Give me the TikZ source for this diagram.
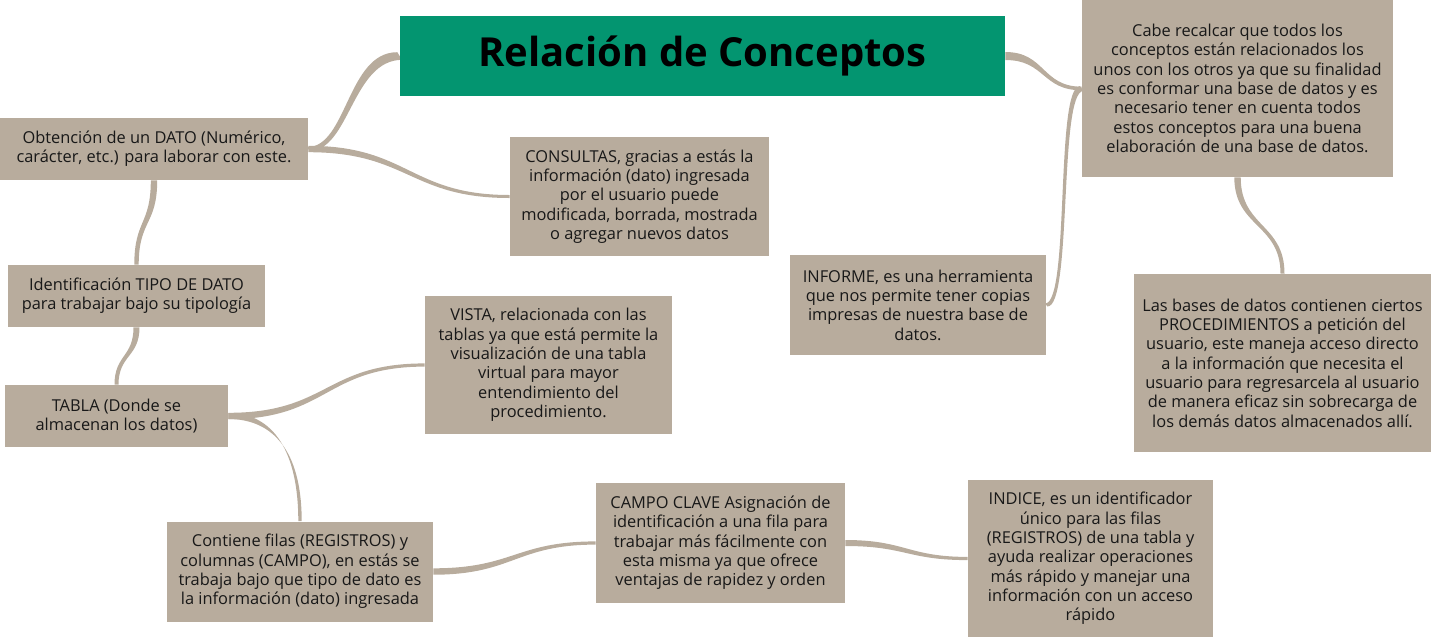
\documentclass[tikz,border=0pt]{standalone}
\usepackage{fontspec}
\setmainfont{Open Sans}
\usetikzlibrary{calc,backgrounds}
\definecolor{conceptfill}{RGB}{184,172,157}
\definecolor{titlefill}{RGB}{3,149,112}
\definecolor{conceptink}{RGB}{24,24,24}
% tapered branch: from #1 to #2, control vectors #3 and #4, half widths #5 and #6
\newcommand{\branch}[6]{%
  \fill[branchline] ($(#1)+(#5)$) .. controls +(#3) and +(#4) .. ($(#2)+(#6)$)
    -- ($(#2)-(#6)$) .. controls +(#4) and +(#3) .. ($(#1)-(#5)$) -- cycle;}
\tikzset{
  concept/.style={rectangle,fill=conceptfill,text=conceptink,inner sep=0pt,
                  align=center,font=\fontsize{12.3}{14.5}\selectfont},
  headline/.style={rectangle,fill=titlefill,text=black,inner sep=0pt,
                   font=\fontsize{30}{34}\selectfont\bfseries},
  boxsize/.style 2 args={minimum width=#1*0.75pt,minimum height=#2*0.75pt},
  branchline/.style={fill=conceptfill},
}

\begin{document}
\begin{tikzpicture}[x=0.75pt,y=-0.75pt]
  \useasboundingbox (0,0) rectangle (1431,637);
  \node[headline,boxsize={605}{80}] (titulo) at (702.5,56) {Relación de Conceptos};
  \node[concept,boxsize={308}{62}] (obtencion) at (154,149)
    {Obtención de un DATO (Numérico,\\carácter, etc.) para laborar con este.};
  \node[concept,boxsize={259}{119}] (consultas) at (639.5,196.5)
    {CONSULTAS, gracias a estás la\\información (dato) ingresada\\por el usuario puede\\
     modificada, borrada, mostrada\\o agregar nuevos datos};
  \node[concept,boxsize={311}{177}] (recalcar) at (1237.5,88.5)
    {Cabe recalcar que todos los\\conceptos están relacionados los\\
     unos con los otros ya que su finalidad\\es conformar una base de datos y es\\
     necesario tener en cuenta todos\\estos conceptos para una buena\\
     elaboración de una base de datos.};
  \node[concept,boxsize={257}{62}] (tipo) at (136.5,296)
    {Identificación TIPO DE DATO\\para trabajar bajo su tipología};
  \node[concept,boxsize={223}{62}] (tabla) at (116.5,416)
    {TABLA (Donde se\\almacenan los datos)};
  \node[concept,boxsize={247}{138}] (vista) at (548.5,365)
    {VISTA, relacionada con las\\tablas ya que está permite la\\visualización de una tabla\\
     virtual para mayor\\entendimiento del\\procedimiento.};
  \node[concept,boxsize={266}{100}] (contiene) at (300,571.5)
    {Contiene filas (REGISTROS) y\\columnas (CAMPO), en estás se\\
     trabaja bajo que tipo de dato es\\la información (dato) ingresada};
  \node[concept,boxsize={249}{120}] (clave) at (720.5,543)
    {CAMPO CLAVE Asignación de\\identificación a una fila para\\
     trabajar más fácilmente con\\esta misma ya que ofrece\\ventajas de rapidez y orden};
  \node[concept,boxsize={245}{157}] (indice) at (1090.5,558.5)
    {INDICE, es un identificador\\único para las filas\\(REGISTROS) de una tabla y\\
     ayuda realizar operaciones\\más rápido y manejar una\\información con un acceso\\rápido};
  \node[concept,boxsize={256}{100}] (informe) at (918,305)
    {INFORME, es una herramienta\\que nos permite tener copias\\impresas de nuestra base de\\datos.};
  \node[concept,boxsize={297}{178}] (procedimientos) at (1282.5,363)
    {Las bases de datos contienen ciertos\\PROCEDIMIENTOS a petición del\\
     usuario, este maneja acceso directo\\a la información que necesita el\\
     usuario para regresarcela al usuario\\de manera eficaz sin sobrecarga de\\
     los demás datos almacenados allí.};
  \begin{scope}[on background layer]
    \branch{titulo.west}{obtencion.east}{-50,0}{40,0}{2.5,3.8}{1.2,1.8}
    \branch{obtencion.east}{consultas.west}{100,0}{-100,0}{0,3.2}{0,1.5}
    \branch{obtencion.south}{tipo.north}{0,45}{0,-45}{3.2,0}{2.2,0}
    \branch{tipo.south}{tabla.north}{0,30}{0,-30}{3,0}{2,0}
    \branch{tabla.east}{vista.west}{100,0}{-100,0}{0,3.2}{0,1.6}
    \branch{tabla.east}{contiene.north}{45,0}{0,-70}{0,3}{1.7,0}
    \branch{contiene.east}{clave.west}{80,0}{-80,0}{0,3.2}{0,1.6}
    \branch{clave.east}{indice.west}{60,0}{-60,0}{0,3}{0,1.6}
    \branch{titulo.east}{recalcar.west}{40,0}{-40,0}{0,4}{0,1.8}
    \branch{recalcar.west}{informe.east}{-25,0}{25,0}{1.8,2.4}{1.2,1.5}
    \branch{recalcar.south}{procedimientos.north}{0,50}{0,-50}{3.2,0}{2,0}
  \end{scope}
\end{tikzpicture}
\end{document}
